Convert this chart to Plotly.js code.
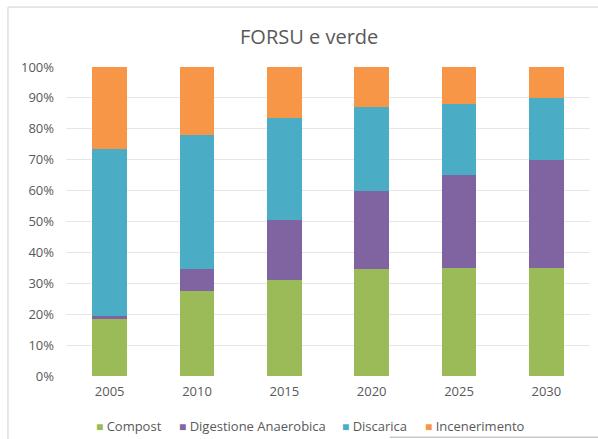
<!DOCTYPE html>
<html>
<head>
<meta charset="utf-8">
<script src="https://cdn.plot.ly/plotly-3.0.1.min.js"></script>
<style>html,body{margin:0;padding:0;background:#fff;}#chart{width:598px;height:439px;}</style>
</head>
<body>
<div id="chart"></div>
<script>
const years = ["2005", "2010", "2015", "2020", "2025", "2030"];
const compost = [18.5, 27.5, 31, 34.5, 35, 35];
const digestione = [1, 7, 19.5, 25.5, 30, 35];
const discarica = [54, 43.5, 33, 27, 23, 20];
const incenerimento = [26.5, 22, 16.5, 13, 12, 10];
const seriesNames = ["Compost", "Digestione Anaerobica", "Discarica", "Incenerimento"];
const yTicks = [0, 10, 20, 30, 40, 50, 60, 70, 80, 90, 100];
const yTickLabels = ["0%", "10%", "20%", "30%", "40%", "50%", "60%", "70%", "80%", "90%", "100%"];

const colors = ["#9BBB59", "#8064A2", "#4BACC6", "#F79646"];
const values = [compost, digestione, discarica, incenerimento];
const traces = values.map((v, i) => ({
  type: "bar",
  x: years,
  y: v,
  name: seriesNames[i],
  marker: { color: colors[i] },
  hoverinfo: "x+y+name"
}));

const fontFam = "Open Sans, Liberation Sans, sans-serif";
const plotL = 66, plotW = 524;
const legendPx = [94, 177, 340, 423];
const legendAnn = seriesNames.map((n, i) => ({
  xref: "paper", yref: "paper",
  x: (legendPx[i] - plotL) / plotW, xanchor: "left",
  y: -0.162, yanchor: "middle",
  showarrow: false,
  text: '<span style="color:' + colors[i] + ';font-size:12px">■</span> ' + n,
  font: { size: 13, color: "#595959", family: fontFam }
}));

const layout = {
  width: 598,
  height: 439,
  barmode: "stack",
  bargap: 0.6,
  margin: { l: plotL, r: 8, t: 67, b: 63 },
  paper_bgcolor: "#ffffff",
  plot_bgcolor: "#ffffff",
  font: { family: fontFam, color: "#595959", size: 13 },
  title: {
    text: "FORSU e verde",
    x: 0.517,
    xref: "container",
    xanchor: "center",
    y: 0.915,
    yref: "container",
    yanchor: "middle",
    font: { size: 20, color: "#595959", family: fontFam }
  },
  xaxis: {
    type: "category",
    showgrid: false,
    showline: false,
    ticks: "",
    ticklabelstandoff: 6,
    tickfont: { size: 13, color: "#595959" },
    fixedrange: true
  },
  yaxis: {
    range: [0, 100],
    tickvals: yTicks,
    ticktext: yTickLabels,
    showgrid: true,
    gridcolor: "#e6e6e6",
    gridwidth: 1,
    zeroline: false,
    showline: false,
    ticks: "",
    ticklabelstandoff: 11,
    tickfont: { size: 13, color: "#595959" },
    fixedrange: true
  },
  showlegend: false,
  annotations: legendAnn,
  shapes: [
    { type: "line", xref: "paper", yref: "paper", x0: -0.1107, x1: -0.1107, y0: -0.21, y1: 1.194, line: { color: "#d0d0d0", width: 1 } },
    { type: "line", xref: "paper", yref: "paper", x0: -0.1107, x1: 1.02, y0: 1.194, y1: 1.194, line: { color: "#d0d0d0", width: 1 } },
    { type: "line", xref: "paper", yref: "paper", x0: 0.618, x1: 1.02, y0: -0.198, y1: -0.198, line: { color: "#c8c8c8", width: 1.5 } }
  ]
};

Plotly.newPlot("chart", traces, layout, { displayModeBar: false, staticPlot: true });
</script>
</body>
</html>
